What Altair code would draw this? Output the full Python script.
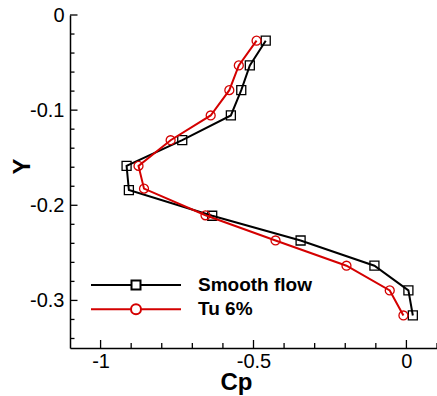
import altair as alt
import pandas as pd
import numpy as np

# ---- data ----
series_names = ["Smooth flow", "Tu 6%"]
series_colors = ["#000000", "#d40000"]

smooth_y = [-0.027, -0.053, -0.079, -0.1056, -0.1316, -0.1586, -0.184, -0.211, -0.237, -0.2635, -0.2895, -0.3158]
smooth_cp = [-0.460, -0.512, -0.540, -0.574, -0.733, -0.915, -0.9075, -0.635, -0.346, -0.1046, 0.0065, 0.021]

tu_y = [-0.027, -0.053, -0.079, -0.1056, -0.1316, -0.1586, -0.1825, -0.2105, -0.237, -0.2635, -0.2895, -0.3158]
tu_cp = [-0.490, -0.548, -0.579, -0.640, -0.771, -0.876, -0.858, -0.657, -0.428, -0.196, -0.0545, -0.0098]

x_major = [-1.0, -0.5, 0.0]
x_minor = [-0.9, -0.8, -0.7, -0.6, -0.4, -0.3, -0.2, -0.1, 0.1]
y_major = [0.0, -0.1, -0.2, -0.3]
y_minor = [-0.02, -0.04, -0.06, -0.08, -0.12, -0.14, -0.16, -0.18,
           -0.22, -0.24, -0.26, -0.28, -0.32, -0.34]

W, H = 367, 333
FONT = "Liberation Sans"

rows = []
for i, (c, y) in enumerate(zip(smooth_cp, smooth_y)):
    rows.append({"series": series_names[0], "cp": c, "y": y, "idx": i})
for i, (c, y) in enumerate(zip(tu_cp, tu_y)):
    rows.append({"series": series_names[1], "cp": c, "y": y, "idx": i})
df = pd.DataFrame(rows)

xs = alt.Scale(domain=[-1.1, 0.1], nice=False, zero=False)
ys = alt.Scale(domain=[-0.35, 0.0], nice=False, zero=False)

X = alt.X("cp:Q", scale=xs, axis=alt.Axis(
    values=x_major, labelExpr="'' + datum.value", title="Cp",
    titleX=166, titleY=41, titleAlign="center", titleBaseline="alphabetic"))
Y = alt.Y("y:Q", scale=ys, axis=alt.Axis(
    values=y_major, labelExpr="'' + datum.value", title="Y",
    titleX=-41, titleY=151, titleAngle=270, titleAlign="center", titleBaseline="alphabetic"))

layers = []
shapes = ["square", "circle"]
sizes = [81, 80]
for k, name in enumerate(series_names):
    sub = alt.Chart(df).transform_filter(alt.datum.series == name)
    layers.append(sub.mark_line(strokeWidth=2, color=series_colors[k]).encode(
        x=X, y=Y, order="idx:Q"))
    layers.append(sub.mark_point(shape=shapes[k], size=sizes[k], filled=False, opacity=1,
                                 strokeWidth=1.3, color=series_colors[k]).encode(x=X, y=Y))

# inward ticks
tx_major = pd.DataFrame({"cp": x_major})
tx_minor = pd.DataFrame({"cp": x_minor})
ty_major = pd.DataFrame({"y": y_major})
ty_minor = pd.DataFrame({"y": y_minor})
tick_style = dict(color="black", strokeWidth=1.3)
layers.append(alt.Chart(tx_major).mark_rule(**tick_style).encode(
    x=alt.X("cp:Q", scale=xs), y=alt.value(H), y2=alt.value(H - 8)))
layers.append(alt.Chart(tx_minor).mark_rule(**tick_style).encode(
    x=alt.X("cp:Q", scale=xs), y=alt.value(H), y2=alt.value(H - 5)))
layers.append(alt.Chart(ty_major).mark_rule(**tick_style).encode(
    y=alt.Y("y:Q", scale=ys), x=alt.value(0), x2=alt.value(7.5)))
layers.append(alt.Chart(ty_minor).mark_rule(**tick_style).encode(
    y=alt.Y("y:Q", scale=ys), x=alt.value(0), x2=alt.value(4.5)))

# legend carrier (no marks drawn, only the legend)
sq_path = "M-1,0H-0.1M0.1,0H1M-0.1,-0.1H0.1V0.1H-0.1Z"
ci_path = ("M-1,0H-0.111M0.111,0H1M0.111,0A0.111,0.111,0,1,1,-0.111,0"
           "A0.111,0.111,0,1,1,0.111,0")
leg = alt.Legend(orient="none", legendX=20, legendY=260, title=None,
                 clipHeight=20, rowPadding=4.3, padding=0, symbolOffset=0,
                 labelOffset=16, labelFont=FONT, labelFontSize=19,
                 labelFontWeight="bold", labelColor="black",
                 symbolStrokeWidth=2, symbolSize=8100)
layers.append(alt.Chart(df).transform_filter("false").mark_point(filled=False, opacity=1).encode(
    x=X, y=Y,
    shape=alt.Shape("series:N", scale=alt.Scale(domain=series_names, range=[sq_path, ci_path]), legend=leg),
    color=alt.Color("series:N", scale=alt.Scale(domain=series_names, range=series_colors), legend=leg),
))

chart = alt.layer(*layers).properties(
    width=W, height=H,
    autosize=alt.AutoSizeParams(type="none"),
    padding={"left": 70, "top": 15, "right": 0, "bottom": 48},
).configure_view(stroke=None).configure_axis(
    grid=False, ticks=False, domainColor="black", domainWidth=1.5,
    labelFont=FONT, labelFontSize=20, labelColor="black",
    titleFont=FONT, titleFontSize=24, titleFontWeight="bold", titleColor="black",
).configure_axisX(labelPadding=3).configure_axisY(labelPadding=6)

chart.save("out.html", embed_options={"renderer": "svg", "actions": False})
